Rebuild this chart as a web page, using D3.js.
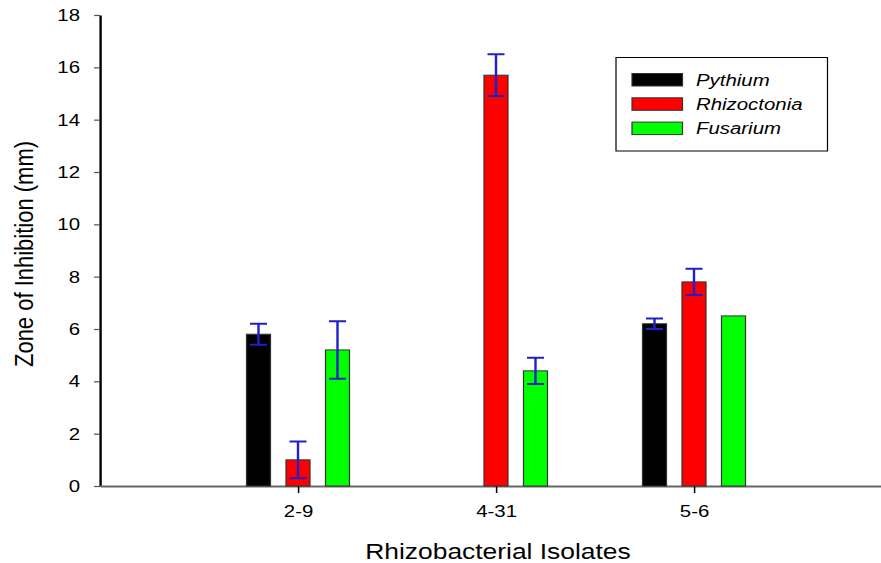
<!DOCTYPE html>
<html>
<head>
<meta charset="utf-8">
<script src="https://cdn.jsdelivr.net/npm/d3@7"></script>
<style>
  html, body { margin: 0; padding: 0; background: #fff; }
  svg { display: block; font-family: "Liberation Sans", Arial, sans-serif; }
</style>
</head>
<body>
<svg id="chart" width="881" height="563"></svg>
<script>
// Zone of inhibition (mm) by rhizobacterial isolate against three pathogens
const categories = ["2-9", "4-31", "5-6"];
const series = ["Pythium", "Rhizoctonia", "Fusarium"];
const pythium = [5.8, 0, 6.2];
const pythiumErr = [0.4, 0, 0.2];
const rhizoctonia = [1.0, 15.7, 7.8];
const rhizoctoniaErr = [0.7, 0.8, 0.5];
const fusarium = [5.2, 4.4, 6.5];
const fusariumErr = [1.1, 0.5, 0];
const yTicks = [0, 2, 4, 6, 8, 10, 12, 14, 16, 18];
const colors = ["#000000", "#ff0000", "#00ff00"];

const values = [pythium, rhizoctonia, fusarium];
const errors = [pythiumErr, rhizoctoniaErr, fusariumErr];
const rows = [];
categories.forEach((c, i) => {
  series.forEach((s, j) => {
    rows.push({ cat: c, series: s, idx: j, value: values[j][i], err: errors[j][i] });
  });
});

// The whole figure is drawn slightly widened horizontally
const sx = 1.2;
const svg = d3.select("#chart");
const g = svg.append("g").attr("transform", `scale(${sx},1)`);

const x = d3.scalePoint().domain(categories).range([100 / sx, 892 / sx]).padding(1);
const xs = d3.scaleBand().domain(series).range([-51.5 / sx, 51.5 / sx]).paddingInner(0.392);
const y = d3.scaleLinear().domain([0, 18]).range([486, 15]);

// Y axis
const yAxis = g.append("g")
  .attr("transform", `translate(${100 / sx},0)`)
  .call(d3.axisLeft(y).tickValues(yTicks).tickSize(6 / sx).tickSizeOuter(0).tickPadding(14 / sx));
yAxis.select(".domain").attr("stroke", "#000").attr("stroke-width", 2);
yAxis.selectAll(".tick line").attr("stroke", "#555").attr("stroke-width", 1.2);
yAxis.selectAll(".tick text").attr("font-size", 17).attr("fill", "#000")
  .attr("font-family", "Liberation Sans, Arial, sans-serif");

// X axis
const xAxis = g.append("g")
  .attr("transform", `translate(0,${y(0)})`)
  .call(d3.axisBottom(x).tickSize(7).tickSizeOuter(0).tickPadding(12));
xAxis.select(".domain").attr("stroke", "#666").attr("stroke-width", 2);
xAxis.selectAll(".tick line").attr("stroke", "#000").attr("stroke-width", 1.5 / sx);
xAxis.selectAll(".tick text").attr("font-size", 17).attr("fill", "#000")
  .attr("font-family", "Liberation Sans, Arial, sans-serif");

// Bars
const barRows = rows.filter(d => d.value > 0);
g.append("g").selectAll("rect")
  .data(barRows)
  .join("rect")
  .attr("x", d => x(d.cat) + xs(d.series))
  .attr("width", xs.bandwidth())
  .attr("y", d => y(d.value))
  .attr("height", d => y(0) - y(d.value))
  .attr("fill", d => colors[d.idx])
  .attr("stroke", "#333")
  .attr("stroke-width", 1);

// Error bars
const errRows = rows.filter(d => d.err > 0);
const capHalf = 8.5 / sx;
const eb = g.append("g").attr("stroke", "#2020c8").attr("stroke-width", 2).attr("fill", "none");
eb.selectAll("path")
  .data(errRows)
  .join("path")
  .attr("d", d => {
    const cx = x(d.cat) + xs(d.series) + xs.bandwidth() / 2;
    const t = y(d.value + d.err), b = y(d.value - d.err);
    return `M${cx - capHalf},${t}H${cx + capHalf}M${cx},${t}V${b}M${cx - capHalf},${b}H${cx + capHalf}`;
  })
  .attr("stroke-width", 2);

// Axis titles
g.append("text")
  .attr("x", 498 / sx)
  .attr("y", 559)
  .attr("text-anchor", "middle")
  .attr("font-size", 22)
  .attr("fill", "#000")
  .text("Rhizobacterial Isolates");

svg.append("text")
  .attr("transform", `translate(33,254) scale(${sx},1) rotate(-90)`)
  .attr("text-anchor", "middle")
  .attr("font-size", 22)
  .attr("fill", "#000")
  .text("Zone of Inhibition (mm)");

// Legend
const lg = g.append("g");
lg.append("rect")
  .attr("x", 616 / sx).attr("y", 57.5)
  .attr("width", 211.5 / sx).attr("height", 93.5)
  .attr("fill", "#fff").attr("stroke", "#000").attr("stroke-width", 1);
const items = lg.selectAll("g.item")
  .data(series)
  .join("g")
  .attr("class", "item")
  .attr("transform", (d, i) => `translate(0,${73.5 + i * 24.3})`);
items.append("rect")
  .attr("x", 632 / sx).attr("y", 0)
  .attr("width", 50.5 / sx).attr("height", 12.5)
  .attr("fill", (d, i) => colors[i])
  .attr("stroke", "#333").attr("stroke-width", 1);
items.append("text")
  .attr("x", 696 / sx).attr("y", 12)
  .attr("font-size", 17)
  .attr("font-style", "italic")
  .attr("fill", "#000")
  .text(d => d);
</script>
</body>
</html>
